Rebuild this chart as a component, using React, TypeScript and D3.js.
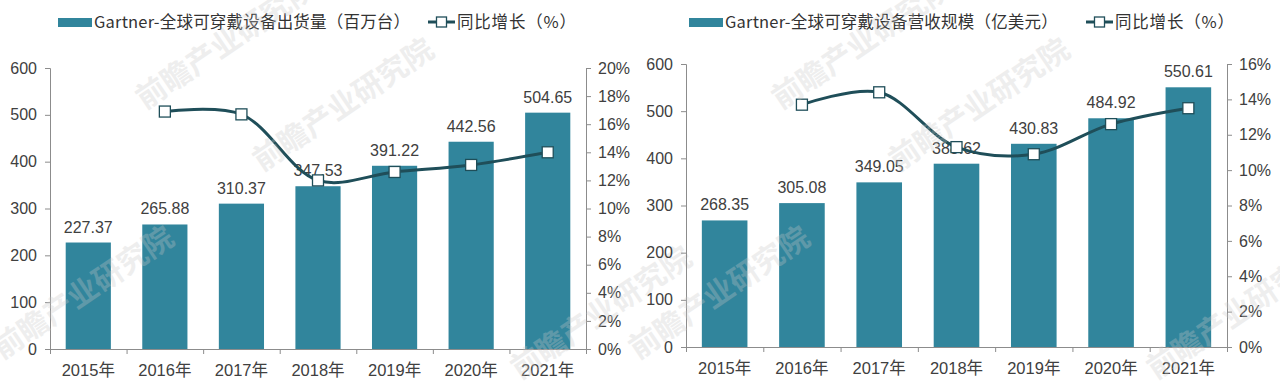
import React, { useEffect, useRef } from "react";
import * as d3 from "d3";

const years = ["2015年", "2016年", "2017年", "2018年", "2019年", "2020年", "2021年"];

// shipments, million units
const shipments = [227.37, 265.88, 310.37, 347.53, 391.22, 442.56, 504.65];
const shipmentGrowth = [null, 16.9, 16.7, 12.0, 12.6, 13.1, 14.0];

// revenue, 100 million USD
const revenue = [268.35, 305.08, 349.05, 388.62, 430.83, 484.92, 550.61];
const revenueGrowth = [null, 13.7, 14.4, 11.3, 10.9, 12.6, 13.5];

const leftTicks = [0, 100, 200, 300, 400, 500, 600];
const shipmentPctTicks = [0, 2, 4, 6, 8, 10, 12, 14, 16, 18, 20];
const revenuePctTicks = [0, 2, 4, 6, 8, 10, 12, 14, 16];

const BAR = "#31859c";
const LINE = "#1f4e59";
const TEXT = "#404040";
const AXIS = "#8c8c8c";
const FONT = "'Liberation Sans', Arial, 'Noto Sans CJK SC', sans-serif";
const CJK = "'Noto Sans CJK SC', 'Liberation Sans', sans-serif";

const drawChart = (svg, cfg) => {
  const { values, growth, pctTicks, x0, x1, yTop, yBottom, barLegend, legendX, lineLegendX } = cfg;

  const x = d3.scaleBand().domain(years).range([x0, x1]).paddingInner(0.41).paddingOuter(0.205);
  const edges = d3.scaleLinear().domain([0, years.length]).range([x0, x1]);
  const y = d3.scaleLinear().domain([0, 600]).range([yBottom, yTop]);
  const y2 = d3.scaleLinear().domain([0, d3.max(pctTicks)]).range([yBottom, yTop]);

  const g = svg.append("g");

  // bars
  g.selectAll("rect.bar")
    .data(values)
    .enter()
    .append("rect")
    .attr("class", "bar")
    .attr("x", (d, i) => x(years[i]))
    .attr("y", d => y(d))
    .attr("width", x.bandwidth())
    .attr("height", d => yBottom - y(d))
    .attr("fill", BAR);

  // value labels
  g.selectAll("text.val")
    .data(values)
    .enter()
    .append("text")
    .attr("class", "val")
    .attr("x", (d, i) => x(years[i]) + x.bandwidth() / 2)
    .attr("y", d => y(d) - 10)
    .attr("text-anchor", "middle")
    .style("font-family", FONT)
    .style("font-size", "16px")
    .style("fill", TEXT)
    .text(d => d.toFixed(2));

  // left axis
  const la = g.append("g")
    .attr("transform", `translate(${x0},0)`)
    .call(d3.axisLeft(y).tickValues(leftTicks).tickSize(5).tickSizeOuter(5).tickPadding(8));
  la.select(".domain").attr("stroke", AXIS);
  la.selectAll("line").attr("stroke", AXIS);
  la.selectAll("text").style("fill", TEXT).style("font-size", "16px").style("font-family", FONT);

  // right axis
  const ra = g.append("g")
    .attr("transform", `translate(${x1},0)`)
    .call(d3.axisRight(y2).tickValues(pctTicks).tickFormat(d => d + "%").tickSize(5).tickSizeOuter(5).tickPadding(7));
  ra.select(".domain").attr("stroke", AXIS);
  ra.selectAll("line").attr("stroke", AXIS);
  ra.selectAll("text").style("fill", TEXT).style("font-size", "16px").style("font-family", FONT);

  // bottom axis, ticks between categories
  const ba = g.append("g")
    .attr("transform", `translate(0,${yBottom})`)
    .call(d3.axisBottom(edges).tickValues(d3.range(years.length + 1)).tickFormat(() => "").tickSize(5).tickSizeOuter(0));
  ba.select(".domain").attr("stroke", AXIS);
  ba.selectAll("line").attr("stroke", AXIS);

  g.selectAll("text.year")
    .data(years)
    .enter()
    .append("text")
    .attr("class", "year")
    .attr("x", d => x(d) + x.bandwidth() / 2)
    .attr("y", yBottom + 27)
    .attr("text-anchor", "middle")
    .style("font-family", FONT)
    .style("font-size", "16.5px")
    .style("fill", TEXT)
    .text(d => d);

  // growth line
  const pts = growth
    .map((v, i) => ({ v, k: years[i] }))
    .filter(d => d.v !== null);

  const line = d3.line()
    .x(d => x(d.k) + x.bandwidth() / 2)
    .y(d => y2(d.v))
    .curve(d3.curveCatmullRom.alpha(0.5));

  g.append("path")
    .datum(pts)
    .attr("fill", "none")
    .attr("stroke", LINE)
    .attr("stroke-width", 3)
    .attr("d", line);

  const m = 11;
  g.selectAll("rect.mk")
    .data(pts)
    .enter()
    .append("rect")
    .attr("class", "mk")
    .attr("x", d => x(d.k) + x.bandwidth() / 2 - m / 2)
    .attr("y", d => y2(d.v) - m / 2)
    .attr("width", m)
    .attr("height", m)
    .attr("fill", "#fff")
    .attr("stroke", LINE)
    .attr("stroke-width", 1.3);

  // legend
  const lg = g.append("g");
  lg.append("rect")
    .attr("x", legendX)
    .attr("y", 18)
    .attr("width", 34)
    .attr("height", 9)
    .attr("fill", BAR);
  lg.append("text")
    .attr("x", legendX + 36)
    .attr("y", 28)
    .style("font-family", CJK)
    .style("font-size", "16.5px")
    .style("letter-spacing", "0.2px")
    .style("fill", "#333")
    .text(barLegend);

  lg.append("line")
    .attr("x1", lineLegendX)
    .attr("x2", lineLegendX + 27)
    .attr("y1", 22)
    .attr("y2", 22)
    .attr("stroke", LINE)
    .attr("stroke-width", 3);
  lg.append("rect")
    .attr("x", lineLegendX + 13.5 - 5)
    .attr("y", 17)
    .attr("width", 10)
    .attr("height", 10)
    .attr("fill", "#fff")
    .attr("stroke", LINE)
    .attr("stroke-width", 1.3);
  lg.append("text")
    .attr("x", lineLegendX + 29)
    .attr("y", 28)
    .style("font-family", CJK)
    .style("font-size", "16.5px")
    .style("letter-spacing", "0.8px")
    .style("fill", "#333")
    .text("同比增长（%）");

  // watermarks
  const marks = [
    [cfg.x0 - 48, 360],
    [cfg.x0 + 212, 172],
    [cfg.x0 + 95, 110],
    [cfg.x0 + 470, 380]
  ];
  marks.forEach(([mx, my]) => {
    g.append("text")
      .attr("transform", `translate(${mx},${my}) rotate(-34)`)
      .style("font-family", CJK)
      .style("font-size", "30px")
      .style("font-weight", "bold")
      .style("fill", "#c8c8c8")
      .style("opacity", 0.3)
      .text("前瞻产业研究院");
  });
};

const App = () => {
  const svgRef = useRef(null);

  useEffect(() => {
    const svg = d3.select(svgRef.current);
    svg.selectAll("*").remove();

    drawChart(svg, {
      values: shipments,
      growth: shipmentGrowth,
      pctTicks: shipmentPctTicks,
      x0: 50,
      x1: 586,
      yTop: 68,
      yBottom: 349,
      barLegend: "Gartner-全球可穿戴设备出货量（百万台）",
      legendX: 58,
      lineLegendX: 428
    });

    drawChart(svg, {
      values: revenue,
      growth: revenueGrowth,
      pctTicks: revenuePctTicks,
      x0: 686,
      x1: 1227,
      yTop: 64,
      yBottom: 347,
      barLegend: "Gartner-全球可穿戴设备营收规模（亿美元）",
      legendX: 689,
      lineLegendX: 1086
    });
  }, []);

  return (
    <div style={{ position: "absolute", left: 0, top: 0, background: "#fff" }}>
      <svg width={1280} height={385} ref={svgRef}></svg>
    </div>
  );
};

export default App;
